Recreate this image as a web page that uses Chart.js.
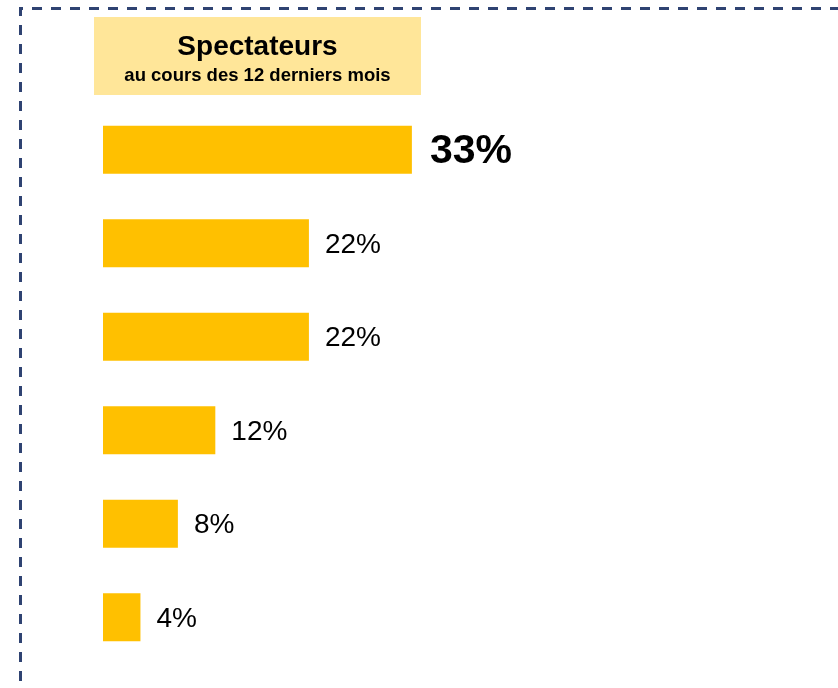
<!DOCTYPE html>
<html>
<head>
<meta charset="utf-8">
<script src="https://cdn.jsdelivr.net/npm/chart.js@4"></script>
<style>
  html, body { margin: 0; padding: 0; background: #fff; }
  canvas { display: block; }
</style>
</head>
<body>
<canvas id="chart" width="838" height="688"></canvas>
<script>
const categories = ["Catégorie 1", "Catégorie 2", "Catégorie 3", "Catégorie 4", "Catégorie 5", "Catégorie 6"];
const values = [33, 22, 22, 12, 8, 4];
const valueLabels = ["33%", "22%", "22%", "12%", "8%", "4%"];
const titleText = "Spectateurs";
const subtitleText = "au cours des 12 derniers mois";

// dashed frame (only top and left edges are inside the picture) + title box
const framePlugin = {
  id: "frame",
  beforeDraw(chart) {
    const ctx = chart.ctx;
    ctx.save();
    ctx.strokeStyle = "#2F4372";
    ctx.lineWidth = 3;
    ctx.setLineDash([10, 9]);
    ctx.beginPath();
    ctx.moveTo(20.5, 700);
    ctx.lineTo(20.5, 8.5);
    ctx.lineTo(850, 8.5);
    ctx.stroke();
    ctx.setLineDash([]);

    ctx.fillStyle = "#FFE699";
    ctx.fillRect(94, 17, 327, 78);
    ctx.fillStyle = "#000";
    ctx.textAlign = "center";
    ctx.textBaseline = "alphabetic";
    ctx.font = "bold 28px 'Liberation Sans', Arial, sans-serif";
    ctx.fillText(titleText, 257.5, 55);
    ctx.font = "bold 18.5px 'Liberation Sans', Arial, sans-serif";
    ctx.fillText(subtitleText, 257.5, 81);
    ctx.restore();
  }
};

const labelPlugin = {
  id: "valueLabels",
  afterDatasetsDraw(chart) {
    const ctx = chart.ctx;
    const bars = chart.getDatasetMeta(0).data;
    ctx.save();
    ctx.fillStyle = "#000";
    ctx.textBaseline = "middle";
    ctx.textAlign = "left";
    bars.forEach((bar, i) => {
      if (i === 0) {
        ctx.font = "bold 41px 'Liberation Sans', Arial, sans-serif";
        ctx.fillText(valueLabels[i], bar.x + 18, bar.y + 2);
      } else {
        ctx.font = "28px 'Liberation Sans', Arial, sans-serif";
        ctx.fillText(valueLabels[i], bar.x + 16, bar.y + 2);
      }
    });
    ctx.restore();
  }
};

new Chart(document.getElementById("chart").getContext("2d"), {
  type: "bar",
  data: {
    labels: categories,
    datasets: [{
      data: values,
      backgroundColor: "#FFC000",
      borderWidth: 0,
      barPercentage: 0.514,
      categoryPercentage: 1
    }]
  },
  options: {
    indexAxis: "y",
    responsive: false,
    animation: false,
    layout: { padding: { left: 103, right: 33, top: 103, bottom: 24 } },
    plugins: {
      legend: { display: false },
      tooltip: { enabled: false }
    },
    scales: {
      x: { display: false, min: 0, max: 75 },
      y: { display: false }
    }
  },
  plugins: [framePlugin, labelPlugin]
});
</script>
</body>
</html>
